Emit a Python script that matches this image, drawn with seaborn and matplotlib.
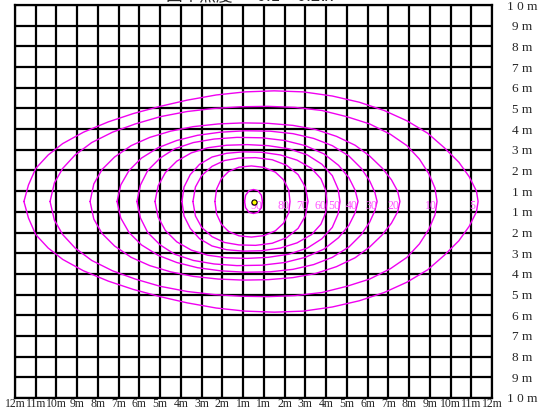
import numpy as np
import pandas as pd
import matplotlib
matplotlib.use("Agg")
import matplotlib.pyplot as plt
import seaborn as sns

# isolux levels [lx]
levels = [5, 10, 20, 30, 40, 50, 60, 70, 80, 90]

# upper half of each isolux line, left to right, metres (lower half is mirrored)
upper_x = {
    5: [-11.07, -10.85, -10.5, -9.9, -9.2, -8.2, -7.0, -5.8, -4.5, -3.2, -1.8, -0.4, 1.0, 2.4,
        3.8, 5.1, 6.3, 7.4, 8.4, 9.2, 9.9, 10.4, 10.75, 10.83],
    10: [-9.81, -9.6, -9.2, -8.6, -7.8, -6.8, -5.7, -4.5, -3.2, -1.9, -0.6, 0.7, 2.0, 3.3, 4.5,
         5.6, 6.6, 7.4, 8.0, 8.45, 8.75, 8.85],
    20: [-7.88, -7.7, -7.3, -6.7, -5.9, -5.0, -4.0, -2.9, -1.7, -0.5, 0.7, 1.9, 3.0, 4.0, 4.9,
         5.6, 6.2, 6.65, 6.95, 7.06],
    30: [-6.58, -6.4, -6.0, -5.4, -4.6, -3.7, -2.7, -1.6, -0.4, 0.8, 1.9, 2.9, 3.8, 4.6, 5.2,
         5.6, 5.85, 5.96],
    40: [-5.62, -5.45, -5.1, -4.5, -3.8, -2.9, -1.9, -0.8, 0.4, 1.5, 2.5, 3.4, 4.1, 4.6, 4.9, 5.04],
    50: [-4.75, -4.6, -4.25, -3.7, -3.0, -2.2, -1.3, -0.3, 0.7, 1.7, 2.6, 3.3, 3.8, 4.08, 4.17],
    60: [-3.45, -3.35, -3.05, -2.6, -2.0, -1.3, -0.5, 0.4, 1.3, 2.1, 2.8, 3.25, 3.48, 3.54],
    70: [-2.92, -2.8, -2.5, -2.0, -1.4, -0.7, 0.1, 0.9, 1.6, 2.15, 2.5, 2.63],
    80: [-1.86, -1.78, -1.55, -1.2, -0.7, -0.1, 0.5, 1.05, 1.45, 1.7, 1.76],
    90: [-0.43, -0.38, -0.22, 0.0, 0.22, 0.38, 0.43],
}
upper_y = {
    5: [0.0, 0.8, 1.6, 2.25, 2.8, 3.35, 3.85, 4.25, 4.6, 4.9, 5.15, 5.3, 5.35, 5.3, 5.1, 4.8,
        4.4, 3.9, 3.3, 2.6, 1.9, 1.2, 0.5, 0.0],
    10: [0.0, 0.9, 1.6, 2.25, 2.85, 3.35, 3.75, 4.1, 4.35, 4.5, 4.58, 4.6, 4.55, 4.4, 4.1, 3.75,
         3.25, 2.7, 2.05, 1.35, 0.65, 0.0],
    20: [0.0, 0.85, 1.55, 2.15, 2.7, 3.1, 3.4, 3.62, 3.75, 3.8, 3.78, 3.68, 3.48, 3.15, 2.72,
         2.2, 1.62, 1.05, 0.5, 0.0],
    30: [0.0, 0.8, 1.5, 2.1, 2.6, 2.95, 3.2, 3.35, 3.42, 3.4, 3.28, 3.05, 2.7, 2.2, 1.6, 1.0,
         0.45, 0.0],
    40: [0.0, 0.8, 1.5, 2.1, 2.55, 2.85, 3.02, 3.1, 3.08, 2.95, 2.7, 2.3, 1.75, 1.15, 0.55, 0.0],
    50: [0.0, 0.75, 1.4, 1.95, 2.35, 2.6, 2.72, 2.75, 2.7, 2.55, 2.25, 1.8, 1.25, 0.6, 0.0],
    60: [0.0, 0.7, 1.3, 1.8, 2.15, 2.33, 2.4, 2.38, 2.25, 2.0, 1.6, 1.1, 0.55, 0.0],
    70: [0.0, 0.7, 1.25, 1.7, 1.98, 2.1, 2.12, 2.02, 1.75, 1.3, 0.7, 0.0],
    80: [0.0, 0.6, 1.1, 1.45, 1.66, 1.72, 1.65, 1.42, 1.05, 0.55, 0.0],
    90: [0.0, 0.3, 0.52, 0.58, 0.52, 0.3, 0.0],
}

# grid line labels
x_labels = [f"{abs(i)}m" for i in range(-12, 0)] + [f"{i}m" for i in range(1, 13)]
y_labels = ["1 0 m"] + [f"{i} m" for i in range(9, 0, -1)] + [f"{i} m" for i in range(1, 10)] + ["1 0 m"]

title = "図中照度 ～ 0.1×0.2lx"

rows = []
for lv in levels:
    xs = np.array(upper_x[lv])
    ys = np.array(upper_y[lv])
    loop_x = np.concatenate([xs, xs[::-1][1:]])
    loop_y = np.concatenate([ys, -ys[::-1][1:]])
    for i, (a, b) in enumerate(zip(loop_x, loop_y)):
        rows.append({"level": lv, "order": i, "x": a, "y": b})
df = pd.DataFrame(rows)

sns.set_style("white")
plt.rcParams["font.family"] = ["Liberation Serif", "DejaVu Serif"]

fig = plt.figure(figsize=(5.44, 4.12), dpi=100)
ax = fig.add_axes([15 / 544, 14 / 412, 477 / 544, 393 / 412])

sns.lineplot(data=df, x="x", y="y", units="level", estimator=None, sort=False,
             color="#f000f0", linewidth=1.0, ax=ax, zorder=3)

xt = np.arange(-11.5, 12, 1.0)
yt = np.arange(9.5, -10, -1.0)
ax.set_xlim(-11.5, 11.5)
ax.set_ylim(-9.5, 9.5)
ax.set_xticks(xt, x_labels)
ax.set_yticks(yt, y_labels)
ax.grid(True, color="black", linewidth=1.6)
ax.set_axisbelow(True)
for s in ax.spines.values():
    s.set_color("black")
    s.set_linewidth(1.6)
ax.set_xlabel("")
ax.set_ylabel("")

ax.tick_params(axis="x", length=0, pad=0.3, labelsize=8.5)
ax.tick_params(axis="y", length=0, left=False, labelleft=False, right=False,
               labelright=True, pad=21.6, labelsize=9.5)
for lab in ax.get_yticklabels():
    lab.set_ha("center")

# value labels just inside the right crossing of each line
for lv in levels:
    ax.text(upper_x[lv][-1] - 0.3, -0.2, str(lv), color="#ff55ff", fontsize=8.5,
            ha="center", va="center", zorder=4)

ax.scatter([0], [0], s=14, color="yellow", edgecolor="black", linewidth=0.8, zorder=5)

fig.text(250 / 544, 1 - 4 / 412, title, ha="center", va="bottom", fontsize=12,
         family=["Noto Sans CJK JP", "DejaVu Sans"])

fig.savefig("out.png", dpi=100)
